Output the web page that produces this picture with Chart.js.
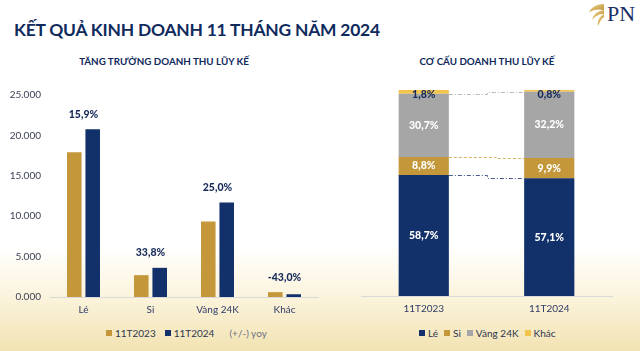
<!DOCTYPE html>
<html>
<head>
<meta charset="utf-8">
<script src="https://cdn.jsdelivr.net/npm/chart.js@4.4.1/dist/chart.umd.min.js"></script>
<style>
  html, body { margin: 0; padding: 0; }
  body {
    width: 640px; height: 351px; position: relative; overflow: hidden;
    font-family: Lato, "Open Sans", sans-serif;
    background: linear-gradient(to bottom, #ffffff 0%, #ffffff 70%, #fbf4de 84%, #f3e3b3 100%);
  }
  .title { position: absolute; left: 14px; top: 19px; font-size: 17.4px; font-weight: 700; color: #0f2a5c; letter-spacing: -0.2px; white-space: nowrap; }
  .sub { position: absolute; top: 55px; font-size: 9.8px; font-weight: 700; color: #0f2a5c; white-space: nowrap; transform: translateX(-50%); }
  .logo { position: absolute; left: 586px; top: 0px; }
  .cv { position: absolute; }
  .legend { position: absolute; top: 327px; font-size: 10px; color: #2d3550; white-space: nowrap; }
  .legend span { margin-right: 9px; }
  .legend i { display: inline-block; width: 6px; height: 6px; margin-right: 3px; vertical-align: 1px; }
</style>
</head>
<body>
<div class="title">KẾT QUẢ KINH DOANH 11 THÁNG NĂM 2024</div>
<svg class="logo" width="54" height="30" viewBox="0 0 54 30">
  <defs>
    <linearGradient id="gd" x1="0" y1="0" x2="1" y2="1">
      <stop offset="0" stop-color="#f3d98f"/><stop offset="1" stop-color="#b88a2e"/>
    </linearGradient>
  </defs>
  <path d="M18 4 C10 4 5 8 3 12 C9 9 14 9 18 10 Z" fill="url(#gd)"/>
  <path d="M18 10 C11 11 7 15 6 20 C10 15 14 14 18 14 Z" fill="url(#gd)"/>
  <path d="M18 14 C13 17 11 21 12 26 C14 21 16 18 18 17 Z" fill="url(#gd)"/>
  <text x="21" y="21" font-family="'Liberation Serif', 'DejaVu Serif', serif" font-size="22" fill="#1b2f66">PN</text>
</svg>
<div class="sub" style="left:164px">TĂNG TRƯỞNG DOANH THU LŨY KẾ</div>
<div class="sub" style="left:487px">CƠ CẤU DOANH THU LŨY KẾ</div>

<canvas id="growth" class="cv" style="left:0;top:80px" width="322" height="245"></canvas>
<canvas id="mix" class="cv" style="left:340px;top:80px" width="300" height="245"></canvas>

<div class="legend" style="left:106px">
  <span><i style="background:#c4983a"></i>11T2023</span><span><i style="background:#12306a"></i>11T2024</span><span style="color:#6b6f80;margin-left:6px">(+/-) yoy</span>
</div>
<div class="legend" style="left:419px">
  <span style="margin-right:6px"><i style="background:#12306a"></i>Lé</span><span style="margin-right:6px"><i style="background:#c4983a"></i>Si</span><span style="margin-right:6px"><i style="background:#a6a6a6"></i>Vàng 24K</span><span><i style="background:#f3c44c"></i>Khác</span>
</div>

<script>
const navy = '#12306a';
const gold = '#c4983a';
const grey = '#a6a6a6';
const yellow = '#f3c44c';

// left chart: revenue (bn VND)
const categories = ['Lé', 'Si', 'Vàng 24K', 'Khác'];
const rev2023 = [17900, 2700, 9350, 600];
const rev2024 = [20750, 3610, 11690, 340];
const yoy = [15.9, 33.8, 25.0, -43.0];
const yTicks = ['0.000', '5.000', '10.000', '15.000', '20.000', '25.000'];

// right chart: revenue mix (%)
const periods = ['11T2023', '11T2024'];
const mixLe = [58.7, 57.1];
const mixSi = [8.8, 9.9];
const mixVang = [30.7, 32.2];
const mixKhac = [1.8, 0.8];

const pct = v => v.toFixed(1).replace('.', ',') + '%';
const labelFont = '900 10.5px Lato, "Open Sans", sans-serif';

const yoyLabels = {
    id: 'yoyLabels',
    afterDatasetsDraw(chart) {
        const ctx = chart.ctx;
        const a = chart.getDatasetMeta(0).data;
        const b = chart.getDatasetMeta(1).data;
        ctx.save();
        ctx.font = labelFont;
        ctx.fillStyle = '#172b5a';
        ctx.textAlign = 'center';
        ctx.textBaseline = 'middle';
        yoy.forEach((v, i) => {
            const x = (a[i].x + b[i].x) / 2;
            const top = Math.min(a[i].y, b[i].y);
            ctx.fillText(pct(v), x, top - 15);
        });
        ctx.restore();
    }
};

new Chart(document.getElementById('growth'), {
    type: 'bar',
    data: {
        labels: categories,
        datasets: [
            { label: '11T2023', data: rev2023, backgroundColor: gold },
            { label: '11T2024', data: rev2024, backgroundColor: navy }
        ]
    },
    options: {
        responsive: false,
        animation: false,
        categoryPercentage: 0.55,
        barPercentage: 0.79,
        layout: { padding: { top: 14, right: 4, left: 0, bottom: 0 } },
        plugins: { legend: { display: false }, tooltip: { enabled: false } },
        scales: {
            x: {
                grid: { display: false, drawTicks: false },
                border: { color: '#d9d9d9', width: 1 },
                ticks: { color: '#2d3a66', font: { size: 10, family: 'Lato' }, padding: 7 },
                afterFit: s => { s.height = 28; }
            },
            y: {
                min: 0, max: 25000,
                grid: { display: false, drawTicks: false },
                border: { display: false },
                ticks: { stepSize: 5000, padding: 9, color: '#3a3f55', font: { size: 10, family: 'Lato' },
                    callback: (v, i) => yTicks[i] },
                afterFit: s => { s.width = 50; }
            }
        }
    },
    plugins: [yoyLabels]
});

const mixLabels = {
    id: 'mixLabels',
    afterDatasetsDraw(chart) {
        const ctx = chart.ctx;
        ctx.save();
        ctx.font = labelFont;
        ctx.textAlign = 'center';
        ctx.textBaseline = 'middle';
        chart.data.datasets.forEach((ds, di) => {
            chart.getDatasetMeta(di).data.forEach((bar, j) => {
                const top = bar.y, bottom = bar.base;
                let y = (top + bottom) / 2;
                if (bottom - top < 12) y = top + 5;
                ctx.fillStyle = di === 3 ? '#172b5a' : '#ffffff';
                ctx.fillText(pct(ds.data[j]), bar.x, y);
            });
        });
        ctx.restore();
    }
};

// dashed series lines between the two stacked columns
const seriesLines = {
    id: 'seriesLines',
    afterDatasetsDraw(chart) {
        const ctx = chart.ctx;
        const styles = [
            { color: '#4a5a8a', dash: [4, 2, 1, 2], step: 0.5 },
            { color: '#d3b36a', dash: [3, 2], step: 0.63 },
            { color: '#b8b8b8', dash: [4, 2, 1, 2], step: 0.5 }
        ];
        ctx.save();
        ctx.lineWidth = 1;
        styles.forEach((st, di) => {
            const [p, q] = chart.getDatasetMeta(di).data;
            const x0 = p.x + p.width / 2, x1 = q.x - q.width / 2;
            const xm = Math.round(x0 + (x1 - x0) * st.step) + 0.5;
            const y0 = Math.round(p.y) + 0.5, y1 = Math.round(q.y) + 0.5;
            ctx.strokeStyle = st.color;
            ctx.setLineDash(st.dash);
            ctx.beginPath();
            ctx.moveTo(x0, y0);
            ctx.lineTo(xm, y0);
            ctx.lineTo(xm, y1);
            ctx.lineTo(x1, y1);
            ctx.stroke();
        });
        ctx.restore();
    }
};

new Chart(document.getElementById('mix'), {
    type: 'bar',
    data: {
        labels: periods,
        datasets: [
            { label: 'Lé', data: mixLe, backgroundColor: navy },
            { label: 'Si', data: mixSi, backgroundColor: gold },
            { label: 'Vàng 24K', data: mixVang, backgroundColor: grey },
            { label: 'Khác', data: mixKhac, backgroundColor: yellow }
        ]
    },
    options: {
        responsive: false,
        animation: false,
        categoryPercentage: 0.4,
        barPercentage: 1,
        layout: { padding: { top: 10, right: 28, left: 21, bottom: 0 } },
        plugins: { legend: { display: false }, tooltip: { enabled: false } },
        scales: {
            x: {
                stacked: true,
                grid: { display: false, drawTicks: false },
                border: { color: '#d9d9d9', width: 1 },
                ticks: { color: '#2d3a66', font: { size: 10, family: 'Lato' }, padding: 7 },
                afterFit: s => { s.height = 29; }
            },
            y: { stacked: true, min: 0, max: 100, display: false }
        }
    },
    plugins: [seriesLines, mixLabels]
});
</script>
</body>
</html>
